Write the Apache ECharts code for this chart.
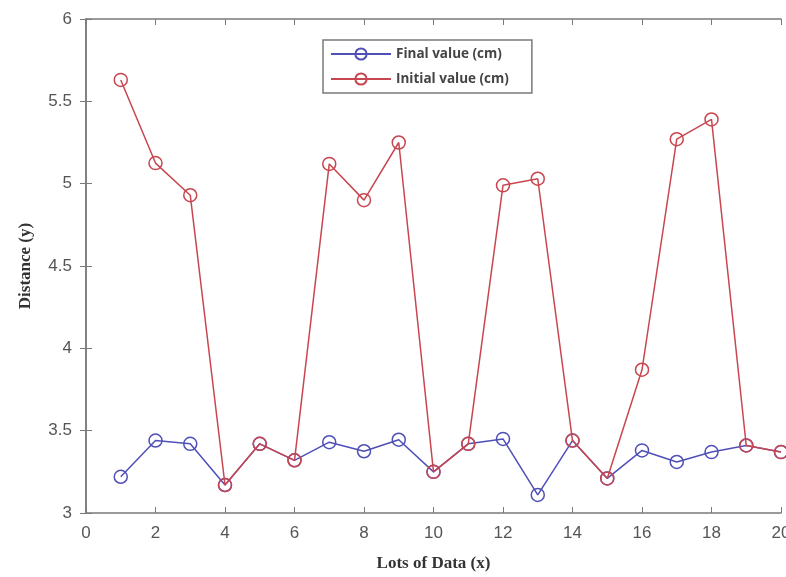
<!DOCTYPE html>
<html>
<head>
<meta charset="utf-8">
<script src="https://cdn.jsdelivr.net/npm/echarts@6/dist/echarts.min.js"></script>
<style>
  html, body { margin: 0; padding: 0; background: #fff; }
  #chart { width: 786px; height: 577px; }
</style>
</head>
<body>
<div id="chart"></div>
<script>
// lots 1..20
var lots = [1, 2, 3, 4, 5, 6, 7, 8, 9, 10, 11, 12, 13, 14, 15, 16, 17, 18, 19, 20];
var finalValue = [3.22, 3.44, 3.42, 3.17, 3.42, 3.32, 3.43, 3.375, 3.445, 3.25,
                  3.42, 3.45, 3.11, 3.44, 3.21, 3.38, 3.31, 3.37, 3.41, 3.37];
var initialValue = [5.63, 5.125, 4.93, 3.17, 3.42, 3.32, 5.12, 4.90, 5.25, 3.25,
                    3.42, 4.99, 5.03, 3.44, 3.21, 3.87, 5.27, 5.39, 3.41, 3.37];

var blue = '#4f4fb8';
var red = '#c8464f';
var frame = '#7a7a7a';

function pairs(ys) {
    return lots.map(function (x, i) { return [x, ys[i]]; });
}

var myChart = echarts.init(document.getElementById('chart'));

var tickLabel = { color: '#555', fontSize: 17, fontFamily: 'Liberation Sans, Arial' };
var axisName = { color: '#333', fontSize: 17, fontWeight: 'bold', fontFamily: 'Liberation Serif, Times New Roman' };

var option = {
    backgroundColor: '#fff',
    animation: false,
    grid: { left: 86, right: 5, top: 19, bottom: 64, outerBoundsMode: 'none' },
    legend: {
        left: 323, top: 40,
        orient: 'vertical',
        padding: [7, 23, 7, 7],
        itemWidth: 60, itemHeight: 14, itemGap: 11,
        borderColor: frame, borderWidth: 1.5,
        backgroundColor: '#fff',
        textStyle: { color: '#444', fontSize: 13.5, fontWeight: 'bold', fontFamily: 'Open Sans, Liberation Sans' },
        data: ['Final value (cm)', 'Initial value (cm)']
    },
    xAxis: [{
        type: 'value', min: 0, max: 20, interval: 2,
        name: 'Lots of Data (x)', nameLocation: 'middle', nameGap: 42,
        nameTextStyle: axisName,
        axisLine: { lineStyle: { color: frame, width: 1.5 } },
        axisTick: { inside: true, length: 6, lineStyle: { color: frame } },
        axisLabel: Object.assign({ margin: 12 }, tickLabel),
        splitLine: { show: false }
    }, {
        type: 'value', min: 0, max: 20, interval: 2, position: 'top',
        axisLine: { lineStyle: { color: frame, width: 1.5 } },
        axisTick: { inside: true, length: 6, lineStyle: { color: frame } },
        axisLabel: { show: false },
        splitLine: { show: false }
    }],
    yAxis: [{
        type: 'value', min: 3, max: 6, interval: 0.5,
        name: 'Distance (y)', nameLocation: 'middle', nameGap: 52,
        nameTextStyle: axisName,
        axisLine: { show: true, lineStyle: { color: frame, width: 1.5 } },
        axisTick: { show: true, inside: true, length: 6, lineStyle: { color: frame } },
        axisLabel: Object.assign({ margin: 14 }, tickLabel),
        splitLine: { show: false }
    }, {
        type: 'value', min: 3, max: 6, interval: 0.5, position: 'right',
        axisLine: { show: true, lineStyle: { color: frame, width: 1.5 } },
        axisTick: { show: true, inside: true, length: 6, lineStyle: { color: frame } },
        axisLabel: { show: false },
        splitLine: { show: false }
    }],
    series: [{
        name: 'Final value (cm)',
        type: 'line',
        data: pairs(finalValue),
        symbol: 'circle', symbolSize: 13,
        lineStyle: { color: blue, width: 1.5 },
        itemStyle: { color: 'rgba(255,255,255,0)', borderColor: blue, borderWidth: 1.5 }
    }, {
        name: 'Initial value (cm)',
        type: 'line',
        data: pairs(initialValue),
        symbol: 'circle', symbolSize: 13,
        lineStyle: { color: red, width: 1.5 },
        itemStyle: { color: 'rgba(255,255,255,0)', borderColor: red, borderWidth: 1.5 }
    }]
};

myChart.setOption(option);
</script>
</body>
</html>
